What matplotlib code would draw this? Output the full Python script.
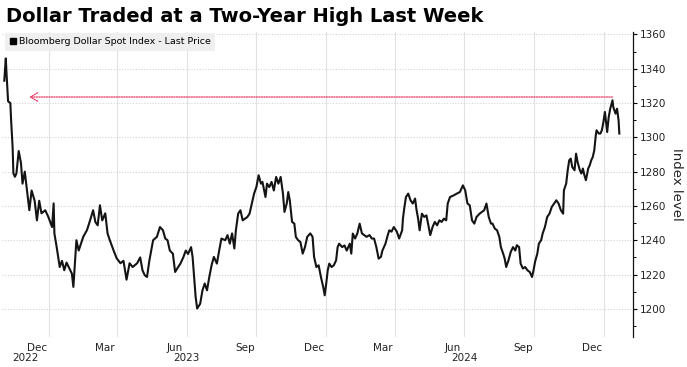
import matplotlib
matplotlib.use("Agg")
import matplotlib.pyplot as plt
import numpy as np
import matplotlib.dates as mdates
from matplotlib.lines import Line2D
from matplotlib.ticker import MultipleLocator, FixedLocator, FixedFormatter, NullFormatter

# ---------------- data ----------------
title = "Dollar Traded at a Two-Year High Last Week"
series_name = "Bloomberg Dollar Spot Index - Last Price"
start_date = "2022-11-01"

# days since start_date
day_offsets = [2,4,5,7,10,11,13,14,16,18,21,24,26,29,32,35,38,42,45,48,51,56,60,65,67,68,71,75,78,81,
               84,89,91,93,97,100,103,106,111,115,119,122,125,128,131,135,138,141,146,150,155,159,163,167,171,177,181,184,187,190,
               193,198,203,207,211,214,217,220,224,227,231,234,238,241,244,248,250,252,254,256,260,263,266,269,272,275,278,282,285,288,
               293,296,299,302,305,307,310,313,316,319,322,325,328,331,334,337,340,342,346,348,351,354,357,360,363,366,369,371,374,376,
               378,381,384,386,389,392,395,398,401,405,408,410,413,416,419,422,424,426,428,430,433,436,439,441,443,447,450,453,457,459,
               461,464,467,470,473,476,479,483,486,489,492,495,498,500,504,507,509,512,515,519,522,526,527,529,531,534,537,540,543,545,
               547,549,552,555,558,561,563,566,569,572,575,578,581,584,586,589,594,598,602,606,609,612,615,618,621,624,628,631,634,637,
               640,643,645,648,651,654,656,659,661,663,666,669,672,675,677,680,682,685,688,691,694,697,699,701,704,706,709,711,714,717,
               720,723,726,729,732,735,738,739,742,744,746,748,750,753,755,757,760,762,764,766,768,771,773,775,777,779,781,782,785,787,
               789,791,793,796,798,800,803,804,807,809,811,812]

index_level = [1333,1346,1337,1321,1320,1310,1294,1279,1277,1279,1292,1285,1273,1280,1269,1257.5,1269,1263,1251.6,1263,
               1255.7,1257.5,1253.6,1247.7,1261.5,1244,1236,1224.4,1228,1222.5,1227,1222.5,1220.6,1212.8,1240,1234,1238,1242,1246,1251.6,
               1257.5,1250.6,1248.7,1260.4,1251.6,1255.7,1244,1240,1234,1229.5,1226.6,1228,1217,1226.6,1224.4,1226.6,1230,1222.5,1219.6,1218.6,
               1228,1240,1242,1247.7,1245.8,1241,1240,1234,1232.2,1221.5,1224.4,1226.4,1230.3,1234,1232,1236,1230.3,1218.6,1207,1200.2,
               1203,1210.8,1214.8,1210.8,1218.6,1225.4,1230.3,1226.4,1234,1241,1240,1243,1238,1244,1235.2,1245.8,1255.5,1257.5,1251.6,1252.6,
               1253.5,1255.5,1261.4,1267.2,1271,1277.9,1273,1274,1265.2,1273,1271,1274,1269,1276.9,1273,1276.9,1267.2,1256.5,1261.4,1268.1,
               1263.3,1250.7,1249.7,1241.9,1240,1239,1232.2,1236,1242,1244,1242,1230.3,1224.4,1225.4,1218.6,1212.8,1207.9,1214.8,1222.5,1226.4,
               1224.4,1225.4,1228.3,1236,1238,1236,1237,1234,1238,1232.2,1243.9,1241,1244,1249.7,1244,1243,1242,1243,1241,1241,
               1236,1229.3,1230.3,1234,1238,1242.9,1245.8,1245,1247.7,1245,1241,1245.8,1252.6,1259.4,1265.2,1267.2,1263.3,1261.4,1264.3,1257.5,
               1252.6,1245.8,1255.5,1253.6,1254.5,1247.7,1243,1247.7,1250.7,1248.7,1251.6,1250.7,1252.6,1251.6,1261.4,1265.2,1266.2,1267.2,1268.1,1272,
               1269.1,1261.4,1260.4,1251.6,1249.7,1253.6,1255.5,1256.5,1257.5,1261.4,1253.6,1249.7,1249.7,1246.8,1245.8,1241.9,1236,1232.2,1229.3,1224.4,
               1228.3,1233.2,1236,1234,1237.1,1236,1226.4,1223.5,1224.4,1222.5,1221.5,1218.6,1222.5,1227.4,1232.2,1238,1240,1243.9,1247.7,1253.6,
               1255.5,1259.4,1261.4,1263.3,1261.4,1257.5,1255.5,1269.1,1273,1280.8,1286.6,1287.6,1282.7,1280.8,1290.5,1285.6,1280.8,1278.9,1281.8,1277.9,
               1275,1281.8,1283.7,1286.6,1288.5,1292.4,1301.2,1304.1,1302.2,1302.2,1304.1,1308.9,1314.8,1303.1,1311.8,1316.7,1321.6,1317.7,1313.8,1316.7,
               1309.9,1302.2]

two_year_high = 1323.5
two_year_high_date = "2025-01-12"
arrow_end_date = "2022-12-06"

month_label_dates = ["2022-12-16","2023-03-16","2023-06-16","2023-09-16","2023-12-16",
                     "2024-03-16","2024-06-16","2024-09-16","2024-12-16"]
month_labels = ["Dec","Mar","Jun","Sep","Dec","Mar","Jun","Sep","Dec"]
year_label_dates = ["2022-12-01","2023-07-01","2024-07-01"]
year_labels = ["2022","2023","2024"]
grid_dates = ["2023-01-01","2023-04-01","2023-07-01","2023-10-01","2024-01-01",
              "2024-04-01","2024-07-01","2024-10-01","2025-01-01"]

# ---------------- plot ----------------
W, H = 687, 367
fig = plt.figure(figsize=(W/100, H/100), dpi=100)
ax = fig.add_axes([2/W, 1-337/H, (633-2)/W, (337-32)/H])

start = np.datetime64(start_date)
dates = start + np.array(day_offsets).astype("timedelta64[D]")
ax.plot(dates, index_level, color="#141414", lw=1.5, zorder=3)

ax.set_xlim(start - np.timedelta64(1, "D"), start + np.timedelta64(830, "D"))
ax.set_ylim(1183.6, 1361.4)

def dn(lst):
    return mdates.date2num(np.array(lst, dtype="datetime64[D]"))

ax.xaxis.set_major_locator(FixedLocator(dn(grid_dates)))
ax.xaxis.set_major_formatter(NullFormatter())
ax.xaxis.set_minor_locator(FixedLocator(dn(month_label_dates)))
ax.xaxis.set_minor_formatter(FixedFormatter(month_labels))
ax.tick_params(axis="x", which="both", length=0, labelsize=7.5, labelcolor="#222222", pad=4)

for d, lab in zip(dn(year_label_dates), year_labels):
    ax.text(d, -0.069, lab, transform=ax.get_xaxis_transform(), ha="center", va="center",
            fontsize=7.5, color="#222222")

ax.yaxis.tick_right()
ax.yaxis.set_major_locator(MultipleLocator(20))
ax.yaxis.set_minor_locator(MultipleLocator(10))
ax.tick_params(axis="y", which="major", length=3, width=0.8, direction="out", pad=2,
               labelsize=7.5, labelcolor="#222222")
ax.tick_params(axis="y", which="minor", length=2, width=0.7, direction="out")
ax.yaxis.set_label_position("right")
ax.set_ylabel("Index level", rotation=270, fontsize=9.5, labelpad=12, color="#222222")

for s in ["top", "left", "bottom"]:
    ax.spines[s].set_visible(False)
ax.spines["right"].set_color("#111111")
ax.spines["right"].set_linewidth(0.9)

ax.grid(True, axis="x", which="major", color="#e2e2e2", lw=0.8, linestyle="-")
ax.grid(True, axis="y", which="major", color="#d4d4d4", lw=0.8, linestyle=(0, (1, 1.5)))
ax.set_axisbelow(True)

ax.annotate("", xy=(np.datetime64(arrow_end_date), two_year_high),
            xytext=(np.datetime64(two_year_high_date), two_year_high),
            arrowprops=dict(arrowstyle="->,head_length=0.5,head_width=0.3", color="#e8375f",
                            lw=0.9, linestyle=(0, (1, 1)), shrinkA=0, shrinkB=0), zorder=4)

fig.text(6/W, 1-22/H, title, fontsize=14.0, fontweight="bold", va="baseline", ha="left",
         color="#000000")

handle = Line2D([], [], marker="s", color="black", ls="none", markersize=4.5)
leg = fig.legend([handle], [series_name], loc="upper left", bbox_to_anchor=(5/W, 1-33/H),
                 borderaxespad=0, frameon=True, facecolor="#efefef", edgecolor="none",
                 fancybox=False, fontsize=6.8, handlelength=0.7, handletextpad=0.3,
                 borderpad=0.45, framealpha=1)

fig.savefig("out.png", dpi=100)
